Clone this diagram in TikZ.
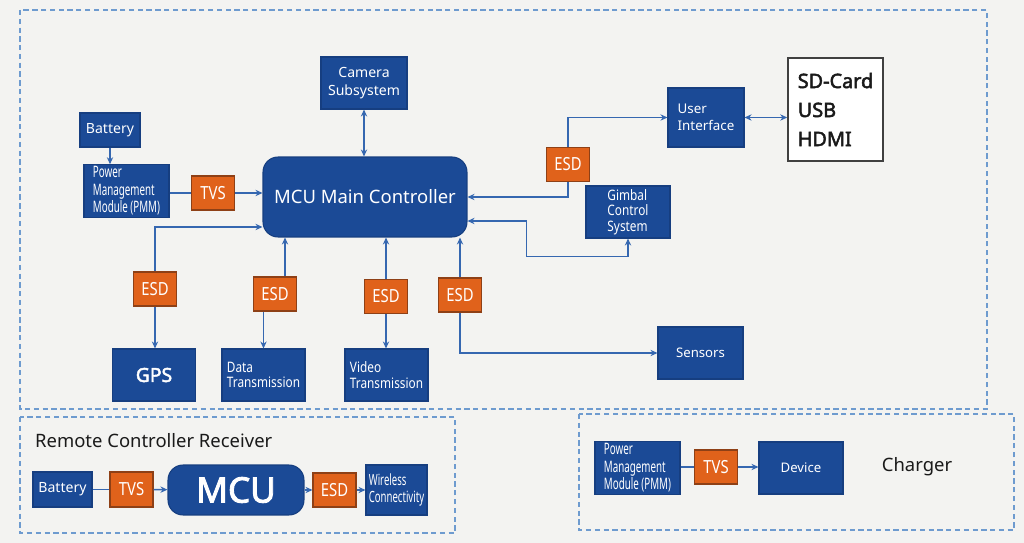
\documentclass[tikz,border=0pt]{standalone}
\usepackage{fontspec}
\setmainfont{Noto Sans}[BoldFont={Noto Sans}, BoldFeatures={FakeBold=2.5}]
\newfontfamily\condfont[FakeStretch=0.82]{Noto Sans}
\newfontfamily\narrowfont[FakeStretch=0.62]{Noto Sans}
\usepackage{tikz}
\usetikzlibrary{arrows.meta,positioning,calc}
\usepackage{xcolor}
\definecolor{bgcol}{HTML}{F3F3F1}
\definecolor{blkblue}{HTML}{1B4A96}
\definecolor{blkedge}{HTML}{163E80}
\definecolor{esdorange}{HTML}{E0621B}
\definecolor{esdedge}{HTML}{8E4016}
\definecolor{linkblue}{HTML}{3567B0}
\definecolor{dashblue}{HTML}{6E9BCF}
\definecolor{txtdark}{HTML}{1A1A1A}

\begin{document}
\begin{tikzpicture}[
    x=0.02cm, y=-0.02cm,
    blk/.style={rectangle, draw=blkedge, fill=blkblue, text=white, inner sep=1pt, line width=0.6pt, font=\fontsize{8}{10}\selectfont},
    prot/.style={rectangle, draw=esdedge, fill=esdorange, text=white, inner sep=1pt, line width=0.6pt, minimum width=0.86cm, minimum height=0.68cm, font=\condfont\fontsize{10.3}{12}\selectfont},
    ctrl/.style={rectangle, rounded corners=0.3cm, draw=blkedge, fill=blkblue, text=white, line width=0.6pt},
    pmmbox/.style={blk, minimum width=1.7cm, minimum height=1.04cm, align=left, font=\narrowfont\fontsize{9}{10}\selectfont},
    link/.style={draw=linkblue, line width=0.8pt},
    dashbox/.style={draw=dashblue, line width=0.7pt, dash pattern=on 3pt off 2pt},
    >={Stealth[length=4pt,width=3.6pt]}
]
    \fill[bgcol] (0,0) rectangle (1024,543);

    % Main board
    \draw[dashbox] (20,10) rectangle (987,409);
    \node[ctrl, minimum width=4.08cm, minimum height=1.6cm, font=\fontsize{10.5}{12}\selectfont] (mcu) at (365,197) {MCU Main Controller};
    \node[blk, minimum width=1.72cm, minimum height=1.04cm, align=center] (cam) at (364,83) {Camera\\Subsystem};
    \node[blk, minimum width=1.2cm, minimum height=0.68cm] (bat) at (110,130) {Battery};
    \node[pmmbox] (pmm) at (126.5,191) {Power\\Management\\Module (PMM)};
    \node[prot] (tvs) at (213,193) {TVS};
    \node[prot] (esdui) at (568,164.5) {ESD};
    \node[blk, minimum width=1.52cm, minimum height=1.18cm, align=left, font=\fontsize{7.6}{9.5}\selectfont] (ui) at (706,117.5) {User\\Interface};
    \node[rectangle, draw=black!75, fill=white, line width=0.9pt, minimum width=1.9cm, minimum height=2.06cm, align=left, text=txtdark, font=\bfseries\fontsize{11.3}{16.5}\selectfont] (io) at (835.5,109.5) {SD-Card\\USB\\HDMI};
    \node[blk, minimum width=1.68cm, minimum height=1.04cm, align=left, font=\condfont\fontsize{8.2}{8.8}\selectfont] (gimbal) at (628,212) {Gimbal\\Control\\System};
    \node[prot] (esdgps) at (155,289) {ESD};
    \node[blk, minimum width=1.66cm, minimum height=1.04cm, font=\bfseries\fontsize{11}{13}\selectfont] (gps) at (154,375) {GPS};
    \node[prot] (esddata) at (275,294) {ESD};
    \node[blk, minimum width=1.66cm, minimum height=1.04cm, align=left, font=\condfont\fontsize{8.2}{9}\selectfont] (data) at (263.5,375) {Data\\Transmission};
    \node[prot] (esdvid) at (386,296.5) {ESD};
    \node[blk, minimum width=1.66cm, minimum height=1.04cm, align=left, font=\condfont\fontsize{8.2}{9}\selectfont] (video) at (386.5,375) {Video\\Transmission};
    \node[prot] (esdsen) at (460,295) {ESD};
    \node[blk, minimum width=1.7cm, minimum height=1.04cm, font=\fontsize{7.5}{9}\selectfont] (sensors) at (700.5,353) {Sensors};

    \draw[link,->] (bat.south) -- (bat.south |- pmm.north);
    \draw[link] (pmm.east |- tvs.west) -- (tvs.west);
    \draw[link,->] (tvs.east) -- (tvs.east -| mcu.west);
    \draw[link,<->] (cam.south) -- (cam.south |- mcu.north);
    \draw[link,->] (esdgps.north) |- ([yshift=-0.6cm]mcu.west);
    \draw[link,->] (esdgps.south) -- (esdgps.south |- gps.north);
    \draw[link,->] ([xshift=0.2cm]esddata.north) -- ([xshift=0.2cm]esddata.north |- mcu.south);
    \draw[link,->] (data.north |- esddata.south) -- (data.north);
    \draw[link,->] (esdvid.north) -- (esdvid.north |- mcu.south);
    \draw[link,->] (esdvid.south) -- (esdvid.south |- video.north);
    \draw[link,->] (esdsen.north) -- (esdsen.north |- mcu.south);
    \draw[link,->] (esdsen.south) |- (sensors.west);
    \draw[link,->] (esdui.north) |- (ui.west);
    \draw[link,->] (esdui.south) |- (mcu.east);
    \draw[link,<->] (ui.east) -- (ui.east -| io.west);
    \draw[link,<->] (gimbal.south) -- ++(0,-0.36cm) -| ([xshift=1.18cm,yshift=-0.48cm]mcu.east) -- ([yshift=-0.48cm]mcu.east);

    % Remote controller receiver
    \draw[dashbox] (20,417) rectangle (455,533);
    \node[anchor=west, text=txtdark, font=\fontsize{10.5}{12}\selectfont] (rtitle) at (29,441) {Remote Controller Receiver};
    \node[blk, minimum width=1.18cm, minimum height=0.7cm] (rbat) at (62.5,489.5) {Battery};
    \node[prot, minimum height=0.7cm] (rtvs) at (131.5,489.5) {TVS};
    \node[ctrl, minimum width=2.72cm, minimum height=1cm, font=\bfseries\fontsize{20}{22}\selectfont] (rmcu) at (236,490) {MCU};
    \node[prot] (resd) at (334.5,490) {ESD};
    \node[blk, minimum width=1.22cm, minimum height=1cm, align=left, font=\narrowfont\fontsize{8.8}{10}\selectfont] (rwl) at (396.5,490) {Wireless\\Connectivity};
    \draw[link] (rbat) -- (rtvs);
    \draw[link,->] (rtvs) -- (rmcu);
    \draw[link,->] (rmcu) -- (resd);
    \draw[link,->] (resd) -- (rwl);

    % Charger
    \draw[dashbox] (579,414) rectangle (1014,530);
    \node[pmmbox] (cpmm) at (637.5,468) {Power\\Management\\Module (PMM)};
    \node[prot] (ctvs) at (716,467) {TVS};
    \node[blk, minimum width=1.68cm, minimum height=1.04cm, font=\fontsize{7.5}{9}\selectfont] (dev) at (801,468) {Device};
    \node[text=txtdark, font=\fontsize{10.5}{12}\selectfont] (chg) at (917,467) {Charger};
    \draw[link] (cpmm.east |- ctvs.west) -- (ctvs.west);
    \draw[link,->] (ctvs.east) -- (ctvs.east -| dev.west);
\end{tikzpicture}
\end{document}
